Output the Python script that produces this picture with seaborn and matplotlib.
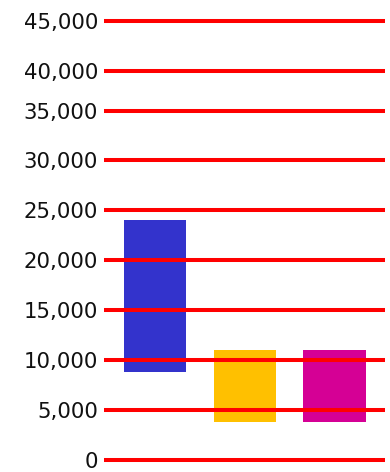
import numpy as np
import pandas as pd
import matplotlib
matplotlib.use("Agg")
import matplotlib.pyplot as plt
import seaborn as sns
from matplotlib.ticker import FuncFormatter

# ---- data ----
categories = ["A", "B", "C"]
range_low = [8800, 3800, 3800]
range_high = [24000, 11000, 11000]
bar_colors = ["#3333cc", "#ffc000", "#d50095"]
y_ticks = [0, 5000, 10000, 15000, 20000, 25000, 30000, 35000, 40000, 45000]

df = pd.DataFrame({
    "cat": categories,
    "span": np.array(range_high) - np.array(range_low),
    "low": range_low,
})

sns.set_style("white")
plt.rcParams["font.family"] = ["DejaVu Sans"]

fig = plt.figure(figsize=(3.90, 4.72), dpi=100)
ax = fig.add_axes([104 / 390, 0, 281 / 390, 1])


# reference axis compresses the 35k-40k band slightly
def fwd(y):
    y = np.asarray(y, dtype=float)
    return np.where(y <= 35000, y,
                    np.where(y <= 40000, 35000 + (y - 35000) * 0.8,
                             39000 + (y - 40000)))


def inv(t):
    t = np.asarray(t, dtype=float)
    return np.where(t <= 35000, t,
                    np.where(t <= 39000, 35000 + (t - 35000) / 0.8,
                             40000 + (t - 39000)))


ax.set_yscale("function", functions=(fwd, inv))

sns.barplot(data=df, x="cat", y="span", order=categories, bottom=df["low"].values,
            width=0.693, color=bar_colors[0], saturation=1, errorbar=None,
            edgecolor="none", linewidth=0, ax=ax, zorder=1)
for patch, c in zip(ax.patches, bar_colors):
    patch.set_facecolor(c)

ax.set_xlim(-0.575, 2.564)
ax.set_ylim(-1200, 47070)
ax.set_yticks(y_ticks)
ax.yaxis.set_major_formatter(FuncFormatter(lambda v, p: f"{int(round(v)):,}"))
ax.yaxis.set_minor_locator(matplotlib.ticker.NullLocator())
ax.set_axisbelow(False)
ax.yaxis.grid(True, color="#ff0000", linewidth=2.9)
ax.xaxis.grid(False)
ax.set_xticks([])
ax.set_xlabel("")
ax.set_ylabel("")
ax.tick_params(axis="y", length=0, pad=4.3, labelsize=15.3, labelcolor="#111111")
for s in ax.spines.values():
    s.set_visible(False)
ax.patch.set_alpha(0)

fig.savefig("out.png", dpi=100)
